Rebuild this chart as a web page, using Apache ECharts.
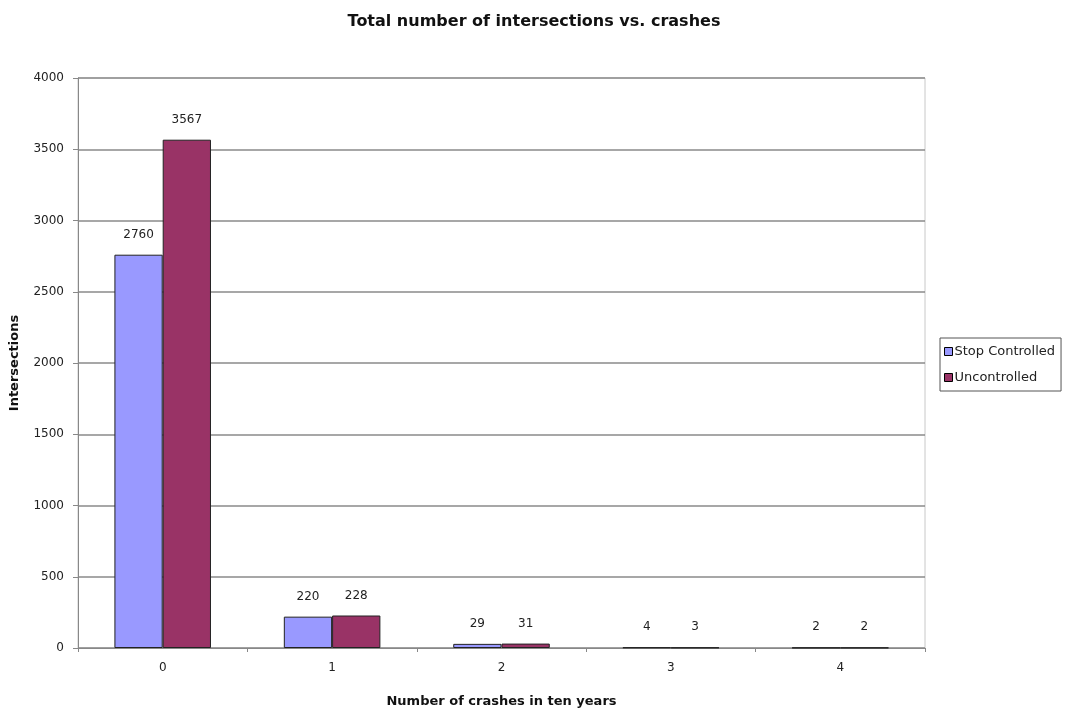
<!DOCTYPE html>
<html><head><meta charset="utf-8">
<script src="https://cdn.jsdelivr.net/npm/echarts@6/dist/echarts.min.js"></script>
<style>html,body{margin:0;padding:0;background:#fff}#c{width:1068px;height:710px}</style>
</head><body><div id="c"></div>
<script>
const categories = ['0','1','2','3','4'];
const stopControlled = [2760, 220, 29, 4, 2];
const uncontrolled = [3567, 228, 31, 3, 2];
const yTicks = [0, 500, 1000, 1500, 2000, 2500, 3000, 3500, 4000];

const chart = echarts.init(document.getElementById('c'));
const font = '"DejaVu Sans", Verdana, sans-serif';
const txt = '#222';
chart.setOption({
  animation: false,
  backgroundColor: '#fff',
  title: {
    text: 'Total number of intersections vs. crashes',
    left: 'center', top: 9,
    textStyle: {fontFamily: font, fontSize: 16, fontWeight: 'bold', color: '#111'}
  },
  legend: {
    orient: 'vertical', left: 940, top: 338,
    itemWidth: 8, itemHeight: 8, itemGap: 13,
    padding: [7, 6, 7, 4],
    borderColor: '#555', borderWidth: 1,
    icon: 'rect',
    itemStyle: {borderColor: '#000', borderWidth: 1},
    textStyle: {fontFamily: font, fontSize: 13, color: txt, padding: [0,0,0,-3]},
    data: ['Stop Controlled', 'Uncontrolled']
  },
  grid: {left: 78, right: 143, top: 78, bottom: 62, outerBoundsMode: 'none', show: true, borderColor: '#c8c8c8', borderWidth: 1},
  xAxis: {
    type: 'category', data: categories,
    name: 'Number of crashes in ten years', nameLocation: 'middle', nameGap: 47,
    nameTextStyle: {fontFamily: font, fontSize: 13, fontWeight: 'bold', color: '#111'},
    axisLine: {lineStyle: {color: '#888'}},
    axisTick: {show: true, length: 4, lineStyle: {color: '#888'}},
    axisLabel: {fontFamily: font, fontSize: 12, color: txt, margin: 14}
  },
  yAxis: {
    type: 'value', min: yTicks[0], max: yTicks[yTicks.length-1], interval: 500,
    name: 'Intersections', nameLocation: 'middle', nameGap: 57,
    nameTextStyle: {fontFamily: font, fontSize: 13, fontWeight: 'bold', color: '#111'},
    axisLine: {show: true, lineStyle: {color: '#888'}},
    axisTick: {show: true, length: 5, lineStyle: {color: '#888'}},
    axisLabel: {fontFamily: font, fontSize: 12, color: txt, margin: 14, formatter: v => String(v)},
    splitLine: {lineStyle: {color: '#8a8a8a', width: 1.5}}
  },
  series: [
    {
      name: 'Stop Controlled', type: 'bar', data: stopControlled,
      barGap: '0%', barCategoryGap: '43%',
      itemStyle: {color: '#9999FF', borderColor: '#222', borderWidth: 1},
      label: {show: true, position: 'top', distance: 14, fontFamily: font, fontSize: 12, color: txt}
    },
    {
      name: 'Uncontrolled', type: 'bar', data: uncontrolled,
      itemStyle: {color: '#993366', borderColor: '#222', borderWidth: 1},
      label: {show: true, position: 'top', distance: 14, fontFamily: font, fontSize: 12, color: txt}
    }
  ]
});
</script></body></html>
